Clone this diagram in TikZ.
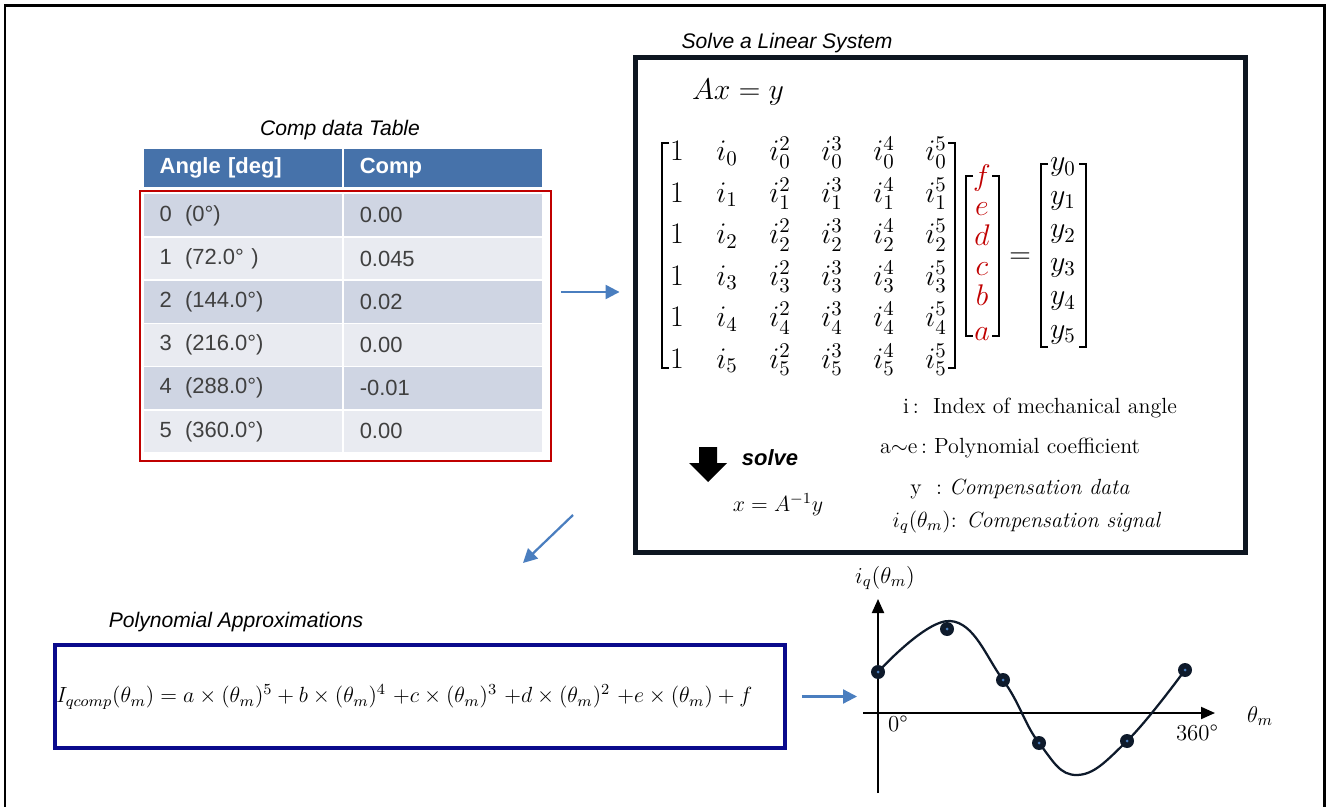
\RequirePackage{fix-cm}
\documentclass[tikz,border=0pt]{standalone}
\usepackage{amsmath}
\usepackage{fontspec}
\setsansfont{Liberation Sans}
\usetikzlibrary{arrows.meta, calc}
\definecolor{headblue}{HTML}{4672AA}
\definecolor{rowdark}{HTML}{CFD5E3}
\definecolor{rowlight}{HTML}{E9EBF1}
\definecolor{celltext}{HTML}{404040}
\definecolor{framered}{HTML}{C00000}
\definecolor{flowblue}{HTML}{4A7EBF}
\definecolor{boxnavy}{HTML}{0E1621}
\definecolor{polyblue}{HTML}{0A0A8C}
\definecolor{dotnavy}{HTML}{0E1A2B}
\newcommand\tabfont{\fontsize{12.5}{15}\selectfont\sffamily}
\newcommand\matfont{\fontsize{17}{20}\selectfont}
\newcommand\legfont{\fontsize{12.5}{15}\selectfont}
\tikzset{
  title/.style={font=\fontsize{12}{14}\selectfont\sffamily\itshape},
  cell/.style={
    rectangle, draw=white, line width=0.03cm, anchor=north west,
    minimum height=0.864cm, text width=3.32cm, inner xsep=0.34cm,
    inner ysep=0pt, align=left, font=\tabfont, text=celltext
  },
  head/.style={cell, fill=headblue, minimum height=0.78cm,
    text=white, font=\tabfont\bfseries},
  tblframe/.style={rectangle, draw=framered, line width=0.04cm,
    minimum width=8.22cm, minimum height=5.4cm},
  linbox/.style={rectangle, draw=boxnavy, line width=0.1cm,
    minimum width=12.22cm, minimum height=9.92cm},
  polybox/.style={rectangle, draw=polyblue, line width=0.08cm,
    minimum width=14.6cm, minimum height=2.06cm},
  mathtxt/.style={anchor=base, inner sep=0pt, font=\matfont},
  coef/.style={mathtxt, text=framered},
  legend/.style={inner sep=0pt, font=\legfont},
  brk/.style={line width=0.035cm},
  flowarrow/.style={-{Triangle[length=0.28cm,width=0.28cm]},
    line width=0.045cm, draw=flowblue},
  axis/.style={-{Triangle[length=0.28cm,width=0.24cm]}, line width=0.04cm},
  dot/.style={circle, fill=dotnavy, inner sep=0pt, minimum size=0.28cm,
    path picture={\fill[flowblue] (path picture bounding box.center) circle (0.03cm);}}
}
\begin{document}
\begin{tikzpicture}[x=0.02cm, y=-0.02cm]
  \useasboundingbox (0,0) rectangle (1328,807);
  \draw[line width=0.06cm] (5,6) rectangle (1324,830);

  % comp data table
  \node[title] (tbltitle) at (340,130) {Comp data Table};
  \node[head] (hang) at (142,148) {Angle [deg]};
  \node[head] (hcomp) at (342,148) {Comp};
  \foreach \r/\ang/\val/\col in {
      0/{0\hspace{0.6em}(0°)}/0.00/rowdark,
      1/{1\hspace{0.6em}(72.0° )}/0.045/rowlight,
      2/{2\hspace{0.6em}(144.0°)}/0.02/rowdark,
      3/{3\hspace{0.6em}(216.0°)}/0.00/rowlight,
      4/{4\hspace{0.6em}(288.0°)}/-0.01/rowdark,
      5/{5\hspace{0.6em}(360.0°)}/0.00/rowlight}
  {
    \node[cell, fill=\col] (ang\r) at (142,{193+43.2*\r}) {\ang};
    \node[cell, fill=\col] (val\r) at (342,{193+43.2*\r}) {\val};
  }
  \node[tblframe] (tblframe) at (345.5,326) {};

  % linear system
  \node[title] (lintitle) at (787,43) {Solve a Linear System};
  \node[linbox] (linbox) at (940.5,305) {};
  \node[font=\matfont] (axy) at (738,92) {$Ax = y$};
  \foreach \r in {0,...,5} {
    \node[mathtxt] (m-\r-0) at (677,{161+41.4*\r}) {$1$};
    \node[mathtxt] (m-\r-1) at (727,{161+41.4*\r}) {$i_{\r}$};
    \foreach \c/\x in {2/780,3/832,4/884,5/936}
      \node[mathtxt] (m-\r-\c) at (\x,{161+41.4*\r}) {$i_{\r}^{\c}$};
  }
  \draw[brk] (669,143) -- (662,143) -- (662,368) -- (669,368);
  \draw[brk] (948,143) -- (955,143) -- (955,368) -- (948,368);
  \foreach \v/\yb in {f/186,e/216,d/246,c/276,b/306,a/340}
    \node[coef] (k-\v) at (982,\yb) {$\v$};
  \draw[brk] (973,176) -- (966,176) -- (966,336) -- (973,336);
  \draw[brk] (992,176) -- (999,176) -- (999,336) -- (992,336);
  \node[font=\matfont] (eq) at (1020,258) {$=$};
  \foreach \r in {0,...,5}
    \node[mathtxt] (y-\r) at (1063,{171+33.4*\r}) {$y_{\r}$};
  \draw[brk] (1048,164) -- (1041,164) -- (1041,347) -- (1048,347);
  \draw[brk] (1079,164) -- (1086,164) -- (1086,347) -- (1079,347);

  \fill (699,447) -- (717,447) -- (717,463) -- (727,463) -- (708,482)
    -- (689,463) -- (699,463) -- cycle;
  \node[font=\fontsize{12.5}{15}\selectfont\sffamily\bfseries\itshape] (solve) at (770,458) {solve};
  \node[legend] (xsol) at (778,505) {$x = A^{-1}y$};
  \node[legend] (leg1) at (1040,408) {i\,:\ \ Index of mechanical angle};
  \node[legend] (leg2) at (1010,448) {a$\sim$e\,:\ Polynomial coefficient};
  \node[legend] (leg3) at (1020,489) {y\ \ :\ \textit{Compensation data}};
  \node[legend] (leg4) at (1027,522) {$i_q(\theta_m)$: \textit{Compensation signal}};

  % polynomial
  \node[title] (polytitle) at (236,622) {Polynomial Approximations};
  \node[polybox] (polybox) at (420,696.5) {};
  \node[font=\fontsize{12.5}{15}\selectfont, anchor=west, inner sep=0pt] (formula) at (56,697)
    {$I_{qcomp}(\theta_m) = a\times(\theta_m)^5 + b\times(\theta_m)^4\ {+}c\times(\theta_m)^3\ {+}d\times(\theta_m)^2\ {+}e\times(\theta_m) + f$};

  % graph
  \coordinate (orig) at (878,713);
  \draw[axis] (878,793) -- (878,599);
  \draw[axis] (863,713) -- (1215,713);
  \node[font=\fontsize{13}{15}\selectfont] (ylab) at (885,578) {$i_q(\theta_m)$};
  \node[font=\fontsize{13}{15}\selectfont] (xlab) at (1260,716) {$\theta_m$};
  \node[font=\fontsize{13}{15}\selectfont] (zero) at (898,724) {0°};
  \node[font=\fontsize{13}{15}\selectfont] (full) at (1197,733) {360°};
  \draw[line width=0.045cm, dotnavy] plot[smooth, tension=0.7] coordinates
    {(878,672) (950,621) (1003,680) (1039,743) (1077,775) (1127,741) (1185,670)};
  \foreach \n/\p in {0/{878,672},1/{947,629},2/{1003,680},3/{1039,743},4/{1127,741},5/{1185,670}}
    \node[dot] (pt\n) at (\p) {};

  % flow arrows
  \coordinate (a1) at (0,292);
  \coordinate (a2s) at (573,515);
  \coordinate (a2e) at (523,563);
  \draw[flowarrow, shorten <=0.18cm, shorten >=0.26cm]
    (tblframe.east |- a1) -- (linbox.west |- a1);
  \draw[flowarrow] (a2s) -- (a2e);
  \draw[flowarrow, shorten <=0.3cm, shorten >=0.42cm]
    (polybox.east) -- (polybox.east -| orig);
\end{tikzpicture}
\end{document}
